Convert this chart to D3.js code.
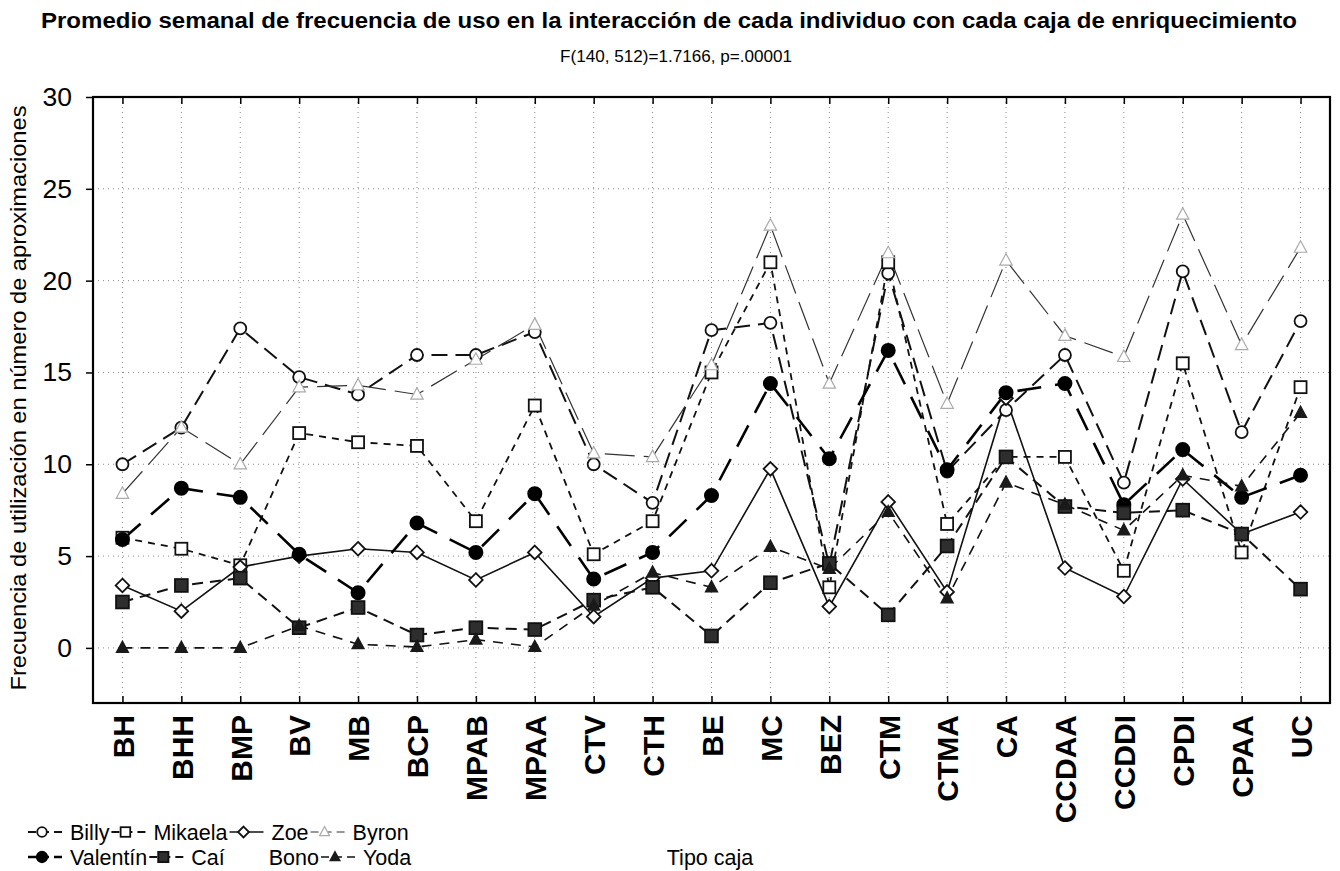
<!DOCTYPE html>
<html>
<head>
<meta charset="utf-8">
<script src="https://cdn.jsdelivr.net/npm/d3@7"></script>
<style>
  html, body { margin: 0; padding: 0; background: #fff; }
  svg { display: block; font-family: "Liberation Sans", Arial, sans-serif; }
</style>
</head>
<body>
<svg id="chart" width="1340" height="871"></svg>
<script>
// Box types (x axis categories)
const categories = ["BH", "BHH", "BMP", "BV", "MB", "BCP", "MPAB", "MPAA", "CTV", "CTH",
  "BE", "MC", "BEZ", "CTM", "CTMA", "CA", "CCDAA", "CCDDI", "CPDI", "CPAA", "UC"];

// Weekly mean approach frequency per individual
const billy    = [10.0, 12.0, 17.4, 14.75, 13.8, 15.95, 15.95, 17.2, 10.0, 7.9, 17.3, 17.7, 4.5, 20.4, 9.6, 12.95, 15.95, 9.0, 20.5, 11.75, 17.8];
const mikaela  = [6.0, 5.4, 4.5, 11.7, 11.2, 11.0, 6.9, 13.2, 5.1, 6.9, 15.0, 21.0, 3.3, 21.0, 6.75, 10.4, 10.4, 4.2, 15.5, 5.2, 14.2];
const zoe      = [3.4, 2.0, 4.4, 5.0, 5.4, 5.2, 3.7, 5.2, 1.7, 3.8, 4.2, 9.75, 2.25, 7.95, 3.05, 13.6, 4.35, 2.8, 9.2, 6.2, 7.4];
const byron    = [8.4, 12.0, 10.0, 14.2, 14.3, 13.8, 15.7, 17.6, 10.6, 10.4, 15.4, 23.0, 14.4, 21.5, 13.3, 21.1, 17.0, 15.85, 23.6, 16.5, 21.8];
const valentin = [5.9, 8.7, 8.2, 5.1, 3.0, 6.8, 5.2, 8.4, 3.75, 5.2, 8.3, 14.4, 10.3, 16.2, 9.7, 13.9, 14.4, 7.8, 10.8, 8.2, 9.4];
const cai      = [2.5, 3.4, 3.8, 1.1, 2.2, 0.7, 1.1, 1.0, 2.6, 3.3, 0.65, 3.55, 4.6, 1.8, 5.55, 10.4, 7.7, 7.35, 7.5, 6.2, 3.2];
const bono     = [];
const yoda     = [0.0, 0.0, 0.0, 1.2, 0.2, 0.05, 0.45, 0.05, 2.3, 4.1, 3.3, 5.5, 4.3, 7.4, 2.7, 9.0, 7.8, 6.4, 9.4, 8.8, 12.8];

const seriesNames = ["Billy", "Mikaela", "Zoe", "Byron", "Valentín", "Caí", "Bono", "Yoda"];
const yTicks = [0, 5, 10, 15, 20, 25, 30];

const titleText = "Promedio semanal de frecuencia de uso en la interacción de cada individuo con cada caja de enriquecimiento";
const subtitleText = "F(140, 512)=1.7166, p=.00001";
const yLabel = "Frecuencia de utilización en número de aproximaciones";
const xLabel = "Tipo caja";

// Line and symbol styles for each series
const styles = {
  "Billy":    { dash: "16,8",  width: 2.0, color: "#111", marker: "circle",   fill: "#fff",  mstroke: "#111", size: 6.0 },
  "Mikaela":  { dash: "7,6",   width: 1.8, color: "#111", marker: "square",   fill: "#fff",  mstroke: "#111", size: 6.0 },
  "Zoe":      { dash: null,    width: 1.6, color: "#111", marker: "diamond",  fill: "#fff",  mstroke: "#111", size: 6.8 },
  "Byron":    { dash: "30,9",  width: 1.2, color: "#333", marker: "triangle", fill: "#fff",  mstroke: "#aaa", size: 6.2 },
  "Valentín": { dash: "24,14", width: 2.6, color: "#000", marker: "circle",   fill: "#000",  mstroke: "#000", size: 6.6 },
  "Caí":      { dash: "11,7",  width: 2.0, color: "#111", marker: "square",   fill: "#2e2e2e", mstroke: "#111", size: 6.4 },
  "Bono":     { dash: null,    width: 0,   color: "none", marker: null,       fill: "none",  mstroke: "none", size: 0 },
  "Yoda":     { dash: "10,8",  width: 1.6, color: "#111", marker: "triangle", fill: "#1a1a1a", mstroke: "#1a1a1a", size: 5.6 }
};

const seriesData = {
  "Billy": billy, "Mikaela": mikaela, "Zoe": zoe, "Byron": byron,
  "Valentín": valentin, "Caí": cai, "Bono": bono, "Yoda": yoda
};

const svg = d3.select("#chart");
const plot = { left: 93, right: 1330, top: 97, bottom: 703 };

const x = d3.scalePoint().domain(categories).range([plot.left, plot.right]).padding(0.5);
const y = d3.scaleLinear().domain([-3, 30]).range([plot.bottom, plot.top]);

// Titles
svg.append("text").attr("x", 669).attr("y", 28).attr("text-anchor", "middle")
  .attr("font-size", 22).attr("font-weight", "bold")
  .attr("textLength", 1256).attr("lengthAdjust", "spacingAndGlyphs").text(titleText);
svg.append("text").attr("x", 676).attr("y", 62).attr("text-anchor", "middle")
  .attr("font-size", 17).attr("textLength", 232).attr("lengthAdjust", "spacingAndGlyphs").text(subtitleText);

// Grid
const grid = svg.append("g").attr("stroke", "#888").attr("stroke-width", 1).attr("stroke-dasharray", "1,4");
grid.selectAll("line.v").data(categories).join("line")
  .attr("x1", d => x(d)).attr("x2", d => x(d)).attr("y1", plot.top).attr("y2", plot.bottom);
grid.selectAll("line.h").data(yTicks.filter(t => t < 30)).join("line")
  .attr("x1", plot.left).attr("x2", plot.right).attr("y1", d => y(d)).attr("y2", d => y(d));

// Left axis
const yAxis = d3.axisLeft(y).tickValues(yTicks).tickSize(7).tickPadding(14);
const gy = svg.append("g").attr("transform", `translate(${plot.left},0)`).call(yAxis);
gy.select(".domain").remove();
gy.selectAll(".tick line").attr("stroke", "#000").attr("stroke-width", 1.5);
gy.selectAll(".tick text").attr("font-size", 26.5).attr("font-family", "Liberation Sans, Arial, sans-serif").attr("fill", "#000");

// Bottom axis: inward ticks with rotated labels
const xAxis = d3.axisBottom(x).tickSize(-7).tickPadding(0);
const gx = svg.append("g").attr("transform", `translate(0,${plot.bottom})`).call(xAxis);
gx.select(".domain").remove();
gx.selectAll(".tick line").attr("stroke", "#000").attr("stroke-width", 1.5);
gx.selectAll(".tick text")
  .attr("font-size", 30).attr("font-weight", "bold").attr("font-family", "Liberation Sans, Arial, sans-serif")
  .attr("fill", "#000")
  .attr("transform", "translate(0,12) rotate(-90)")
  .attr("text-anchor", "end").attr("dy", "0.36em").attr("x", 0).attr("y", 0);

// Top axis: inward ticks only
const xTop = d3.axisTop(x).tickSize(-7).tickFormat("");
const gt = svg.append("g").attr("transform", `translate(0,${plot.top})`).call(xTop);
gt.select(".domain").remove();
gt.selectAll(".tick line").attr("stroke", "#000").attr("stroke-width", 1.5);

// Frame
svg.append("rect").attr("x", plot.left).attr("y", plot.top)
  .attr("width", plot.right - plot.left).attr("height", plot.bottom - plot.top)
  .attr("fill", "none").attr("stroke", "#000").attr("stroke-width", 2.2);

// Axis titles
svg.append("text").attr("transform", `translate(26,${(plot.top + plot.bottom) / 2 - 2}) rotate(-90)`)
  .attr("text-anchor", "middle").attr("font-size", 22)
  .attr("textLength", 585).attr("lengthAdjust", "spacingAndGlyphs").text(yLabel);
svg.append("text").attr("x", 710).attr("y", 865).attr("text-anchor", "middle")
  .attr("font-size", 21.5).text(xLabel);

// Marker drawing helper
function drawMarker(g, type, cx, cy, s, st) {
  if (!type) return;
  let el;
  if (type === "circle") {
    el = g.append("circle").attr("cx", cx).attr("cy", cy).attr("r", s);
  } else if (type === "square") {
    el = g.append("rect").attr("x", cx - s).attr("y", cy - s).attr("width", 2 * s).attr("height", 2 * s);
  } else if (type === "diamond") {
    el = g.append("path").attr("d", `M${cx},${cy - s}L${cx + s},${cy}L${cx},${cy + s}L${cx - s},${cy}Z`);
  } else if (type === "triangle") {
    el = g.append("path").attr("d", `M${cx},${cy - s * 1.1}L${cx + s},${cy + s * 0.75}L${cx - s},${cy + s * 0.75}Z`);
  }
  el.attr("fill", st.fill).attr("stroke", st.mstroke).attr("stroke-width", type === "triangle" && st.fill === "#fff" ? 1.2 : 1.8);
}

// Lines
const line = d3.line().x((d, i) => x(categories[i])).y(d => y(d));
const linesG = svg.append("g");
seriesNames.forEach(name => {
  const vals = seriesData[name];
  const st = styles[name];
  if (!vals.length) return;
  linesG.append("path").datum(vals).attr("d", line)
    .attr("fill", "none").attr("stroke", st.color).attr("stroke-width", st.width)
    .attr("stroke-dasharray", st.dash);
});

// Markers
const marksG = svg.append("g");
seriesNames.forEach(name => {
  const vals = seriesData[name];
  const st = styles[name];
  vals.forEach((v, i) => drawMarker(marksG, st.marker, x(categories[i]), y(v), st.size, st));
});

// Legend (two rows, flowing left to right)
const legendRows = [["Billy", "Mikaela", "Zoe", "Byron"], ["Valentín", "Caí", "Bono", "Yoda"]];
const legendY = [832, 857];
const legG = svg.append("g");
legendRows.forEach((row, r) => {
  let cx = 28;
  row.forEach(name => {
    const st = styles[name];
    const ly = legendY[r];
    if (st.width > 0) {
      legG.append("line").attr("x1", cx).attr("x2", cx + 34).attr("y1", ly).attr("y2", ly)
        .attr("stroke", st.color).attr("stroke-width", st.width)
        .attr("stroke-dasharray", st.dash ? "8,5" : null);
    }
    drawMarker(legG, st.marker, cx + 14, ly, st.size * 0.8, st);
    const t = legG.append("text").attr("x", cx + 42).attr("y", ly + 8)
      .attr("font-size", 21.5).text(name);
    cx = cx + 42 + t.node().getComputedTextLength() + 2;
  });
});
</script>
</body>
</html>
